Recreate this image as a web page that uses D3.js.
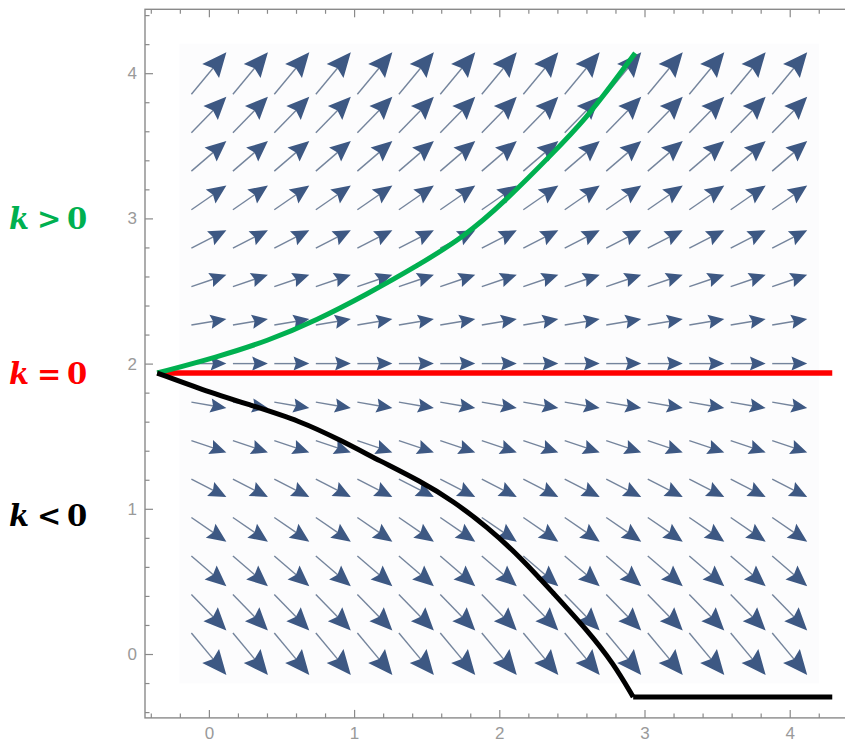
<!DOCTYPE html>
<html><head><meta charset="utf-8">
<script src="https://cdn.jsdelivr.net/npm/d3@7"></script>
<style>body{margin:0;background:#fff}</style>
</head><body>
<svg id="c" width="845" height="749"></svg>
<script>
// ---------- data ----------
const majorTicks = [0, 1, 2, 3, 4];
const minorTicks = [-0.4, -0.2, 0.2, 0.4, 0.6, 0.8, 1.2, 1.4, 1.6, 1.8, 2.2, 2.4, 2.6, 2.8, 3.2, 3.4, 3.6, 3.8, 4.2, 4.4];
// grid of the direction field (same values on both axes)
const gridVals = [0, 0.286, 0.571, 0.857, 1.143, 1.429, 1.714, 2, 2.286, 2.571, 2.857, 3.143, 3.429, 3.714, 4];
// vertical component of the field for each row (horizontal component = 1)
const rowVy = [-1.2, -1.03, -0.86, -0.69, -0.51, -0.34, -0.17, 0, 0.17, 0.34, 0.51, 0.69, 0.86, 1.03, 1.2];
// curves
const redLevel = 1.935;
const redX = [-0.356, 4.293];
const greenCurve = [[-0.356,1.935],[0.057,2.045],[0.402,2.155],[0.746,2.300],[1.090,2.479],[1.434,2.672],[1.765,2.879],[2.027,3.106],[2.371,3.450],[2.605,3.698],[2.784,3.933],[2.936,4.139]];
const blackCurve = [[-0.356,1.935],[-0.060,1.825],[0.284,1.715],[0.629,1.605],[0.904,1.474],[1.180,1.329],[1.455,1.191],[1.682,1.054],[1.917,0.875],[2.144,0.668],[2.371,0.420],[2.605,0.165],[2.784,-0.062],[2.922,-0.296]];
const blackFlat = [[2.922,-0.296],[4.293,-0.296]];
const labels = [
  {rel: ">", color: "#00b050", yv: 3.0},
  {rel: "=", color: "#ff0000", yv: 1.935},
  {rel: "<", color: "#000000", yv: 0.96}
];

// ---------- scales ----------
const svg = d3.select("#c");
const x = d3.scaleLinear().domain([-0.44, 4.44]).range([145, 853.6]);
const y = d3.scaleLinear().domain([-0.44, 4.44]).range([717.9, 9.3]);
const lenScale = d3.scaleLinear().domain([0, 1]).range([0, 35]);

// field background
const half = (gridVals[1] - gridVals[0]) / 2 + 0.06;
svg.append("rect")
  .attr("x", x(gridVals[0] - half)).attr("y", y(gridVals[gridVals.length-1] + half))
  .attr("width", x(gridVals[gridVals.length-1] + half) - x(gridVals[0] - half))
  .attr("height", y(gridVals[0] - half) - y(gridVals[gridVals.length-1] + half))
  .attr("fill", "#fcfcfd");

// ---------- arrows ----------
const arrows = [];
gridVals.forEach((gy, j) => gridVals.forEach(gx => arrows.push({gx, gy, vx: 1, vy: rowVy[j]})));
const ag = svg.append("g");
arrows.forEach(a => {
  const mag = Math.hypot(a.vx, a.vy);
  const L = lenScale(mag);
  const dxp = x(a.vx) - x(0), dyp = y(a.vy) - y(0);
  const angle = Math.atan2(dyp, dxp) * 180 / Math.PI;
  const hl = 0.45 * L, hw = 0.2 * L;
  const g = ag.append("g").attr("transform", `translate(${x(a.gx)},${y(a.gy)}) rotate(${angle})`);
  g.append("line").attr("x1", -L/2).attr("x2", L/2 - hl*0.8).attr("y1", 0).attr("y2", 0)
    .attr("stroke", "#74849c").attr("stroke-width", 1.4);
  g.append("path").attr("d", `M${L/2},0 L${L/2 - hl},${-hw} L${L/2 - hl*0.85},0 L${L/2 - hl},${hw} Z`)
    .attr("fill", "#3d5883");
});

// ---------- frame & ticks ----------
const frameCol = "#8a8a8a";
function styleAxis(g, labelsOn) {
  g.select(".domain").remove();
  g.selectAll(".tick line").attr("stroke", frameCol).attr("stroke-width", 1.2);
  g.selectAll(".tick text").attr("fill", "#9a9a9a")
    .style("font-family", "'Liberation Sans', Arial, sans-serif").style("font-size", "17px");
  if (!labelsOn) g.selectAll(".tick text").remove();
}
const bottomY = y(-0.44), topY = y(4.44), leftX = x(-0.44), rightX = x(4.44);
svg.append("g").attr("transform", `translate(0,${bottomY})`)
  .call(d3.axisBottom(x).tickValues(majorTicks).tickSize(-8).tickPadding(9).tickFormat(d3.format("d")))
  .call(g => styleAxis(g, true));
svg.append("g").attr("transform", `translate(0,${bottomY})`)
  .call(d3.axisBottom(x).tickValues(minorTicks).tickSize(-4.5).tickFormat(""))
  .call(g => styleAxis(g, false));
svg.append("g").attr("transform", `translate(0,${topY})`)
  .call(d3.axisTop(x).tickValues(majorTicks).tickSize(-8).tickFormat(""))
  .call(g => styleAxis(g, false));
svg.append("g").attr("transform", `translate(0,${topY})`)
  .call(d3.axisTop(x).tickValues(minorTicks).tickSize(-4.5).tickFormat(""))
  .call(g => styleAxis(g, false));
svg.append("g").attr("transform", `translate(${leftX},0)`)
  .call(d3.axisLeft(y).tickValues(majorTicks).tickSize(-8).tickPadding(8).tickFormat(d3.format("d")))
  .call(g => styleAxis(g, true));
svg.append("g").attr("transform", `translate(${leftX},0)`)
  .call(d3.axisLeft(y).tickValues(minorTicks).tickSize(-4.5).tickFormat(""))
  .call(g => styleAxis(g, false));
svg.append("rect").attr("x", leftX).attr("y", topY)
  .attr("width", rightX - leftX).attr("height", bottomY - topY)
  .attr("fill", "none").attr("stroke", frameCol).attr("stroke-width", 1.4);

// ---------- curves ----------
const line = d3.line().x(d => x(d[0])).y(d => y(d[1]));
svg.append("path").attr("d", line(redX.map(v => [v, redLevel])))
  .attr("stroke", "#ff0000").attr("stroke-width", 5.5).attr("fill", "none");
svg.append("path").attr("d", line.curve(d3.curveBasis)(greenCurve))
  .attr("stroke", "#00b050").attr("stroke-width", 5).attr("fill", "none");
svg.append("path").attr("d", line.curve(d3.curveBasis)(blackCurve))
  .attr("stroke", "#000").attr("stroke-width", 5).attr("fill", "none");
svg.append("path").attr("d", line.curve(d3.curveLinear)(blackFlat))
  .attr("stroke", "#000").attr("stroke-width", 5).attr("fill", "none");

// ---------- labels ----------
labels.forEach(l => {
  const t = svg.append("text").attr("y", y(l.yv) + 11)
    .attr("fill", l.color)
    .style("font-family", "'DejaVu Serif', serif").style("font-weight", "bold").style("font-size", "29px");
  t.append("tspan").attr("x", 9).style("font-style", "italic").text("k");
  t.append("tspan").attr("x", 37).text(l.rel);
  t.append("tspan").attr("x", 67).text("0");
});
</script>
</body></html>
